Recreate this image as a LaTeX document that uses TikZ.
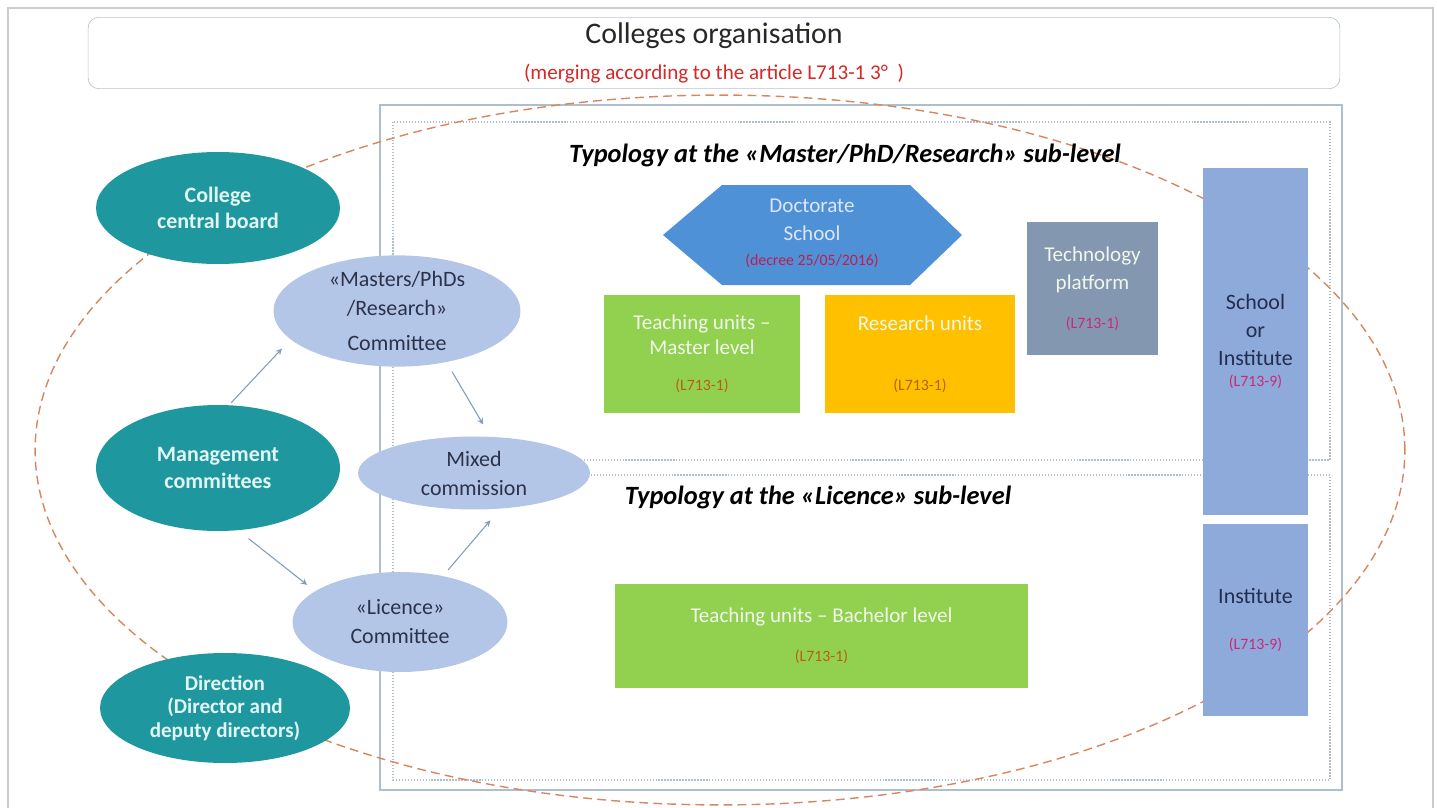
\documentclass[tikz,border=0pt]{standalone}
\usepackage{fontspec}
\setmainfont{Carlito}
\usetikzlibrary{shapes.geometric,positioning}

\definecolor{boardteal}{RGB}{30,152,158}
\definecolor{boardtext}{RGB}{225,245,245}
\definecolor{cmteblue}{RGB}{180,198,231}
\definecolor{cmtetext}{RGB}{45,50,75}
\definecolor{docblue}{RGB}{78,145,215}
\definecolor{doctext}{RGB}{220,230,250}
\definecolor{docref}{RGB}{190,30,80}
\definecolor{unitgreen}{RGB}{146,208,80}
\definecolor{unitorange}{RGB}{255,192,0}
\definecolor{unittext}{RGB}{240,248,235}
\definecolor{platslate}{RGB}{132,151,176}
\definecolor{schoolblue}{RGB}{142,170,219}
\definecolor{schooltext}{RGB}{35,45,80}
\definecolor{reftext}{RGB}{215,40,40}
\definecolor{brownref}{RGB}{185,95,20}
\definecolor{pinkref}{RGB}{205,40,120}
\definecolor{linkblue}{RGB}{130,155,190}
\definecolor{frameline}{RGB}{175,190,205}
\definecolor{titleline}{RGB}{185,195,210}
\definecolor{pageline}{RGB}{200,205,210}
\definecolor{ovalline}{RGB}{215,135,95}
\definecolor{titletext}{RGB}{40,40,40}

\newcommand{\lawref}[2]{{\color{#1}\fontsize{9}{11}\selectfont #2}}

\begin{document}
\begin{tikzpicture}[x=0.02cm, y=-0.02cm,
  boardoval/.style={ellipse, fill=boardteal, text=boardtext, inner sep=0pt, align=center, font=\bfseries\fontsize{12.5}{15}\selectfont},
  cmteoval/.style={ellipse, fill=cmteblue, text=cmtetext, inner sep=0pt, align=center, font=\fontsize{12.5}{16.5}\selectfont},
  unitbox/.style={rectangle, inner sep=0pt, align=center, text=unittext, font=\fontsize{12}{14}\selectfont},
  typohead/.style={font=\bfseries\itshape\fontsize{15}{18}\selectfont, inner sep=0pt},
  linkarrow/.style={->, >=stealth, draw=linkblue, line width=0.6pt},
  outerframe/.style={draw=frameline, line width=0.8pt},
  dotframe/.style={draw=frameline, densely dotted, line width=0.7pt},
  guideoval/.style={draw=ovalline, dash pattern=on 5pt off 3pt, line width=0.8pt}]
\fill[white] (0,0) rectangle (1437,808);
\useasboundingbox (0,0) rectangle (1437,808);
\draw[draw=pageline, line width=0.6pt] (8,8) rectangle (1433,830);

\node[draw=titleline, rounded corners=6pt, fill=white, text=titletext, minimum width=25.04cm, minimum height=1.32cm, align=center, font=\fontsize{17}{20}\selectfont] (title) at (714,53) {Colleges organisation\\{\color{reftext}\fontsize{12}{14}\selectfont (merging according to the article L713-1 3°~~)}};

\draw[outerframe] (380,105) rectangle (1342,790);
\draw[dotframe] (393,122) rectangle (1330,460);
\draw[dotframe] (393,475) rectangle (1330,780);
\draw[guideoval] (720,450) ellipse [x radius=13.7cm, y radius=7.1cm];

\node[typohead] (typmaster) at (845,155) {Typology at the «Master/PhD/Research» sub-level};
\node[typohead] (typlic) at (818,497) {Typology at the «Licence» sub-level};

\node[boardoval, minimum width=4.88cm, minimum height=2.24cm] (central) at (218,208) {College\\central board};
\node[boardoval, minimum width=4.88cm, minimum height=2.52cm] (mgmt) at (218,468) {Management\\committees};
\node[boardoval, minimum width=5cm, minimum height=2.2cm, font=\bfseries\fontsize{12}{13.5}\selectfont] (direction) at (225,708) {Direction\\(Director and\\deputy directors)};

\node[cmteoval, minimum width=4.94cm, minimum height=2.16cm] (mpr) at (397,311) {«Masters/PhDs\\/Research»\\[3pt]Committee};
\node[cmteoval, minimum width=4.64cm, minimum height=1.46cm] (mixed) at (474,473) {Mixed\\commission};
\node[cmteoval, minimum width=4.3cm, minimum height=2cm] (lic) at (400,622) {«Licence»\\Committee};

\fill[docblue] (663,235) -- (722,185) -- (910,185) -- (962,235) -- (910,285) -- (722,285) -- cycle;
\node[unitbox, text=doctext, font=\fontsize{12}{16}\selectfont] (doc) at (812,233) {Doctorate\\School\\[-2pt]\lawref{docref}{(decree 25/05/2016)}};

\node[unitbox, fill=unitgreen, minimum width=3.94cm, minimum height=2.36cm] (teachm) at (702,354) {Teaching units –\\Master level\\[7pt]\lawref{brownref}{(L713-1)}};
\node[unitbox, fill=unitorange, minimum width=3.8cm, minimum height=2.36cm] (research) at (920,354) {Research units\\[20pt]\lawref{brownref}{(L713-1)}};
\node[unitbox, fill=platslate, minimum width=2.62cm, minimum height=2.66cm, font=\fontsize{12}{16}\selectfont] (platform) at (1092.5,288.5) {Technology\\platform\\[6pt]\lawref{pinkref}{(L713-1)}};
\node[unitbox, fill=schoolblue, text=schooltext, minimum width=2.1cm, minimum height=6.94cm, font=\fontsize{12.5}{16}\selectfont] (school) at (1255.5,341.5) {School\\or\\Institute\\[-4pt]\lawref{pinkref}{(L713-9)}};
\node[unitbox, fill=schoolblue, text=schooltext, minimum width=2.1cm, minimum height=3.86cm, font=\fontsize{12.5}{16}\selectfont] (institute) at (1255.5,620) {Institute\\[10pt]\lawref{pinkref}{(L713-9)}};
\node[unitbox, fill=unitgreen, minimum width=8.26cm, minimum height=2.08cm] (teachb) at (821.5,636) {Teaching units – Bachelor level\\[8pt]\lawref{brownref}{(L713-1)}};

\draw[linkarrow, shorten <=0.06cm, shorten >=0.25cm] (mgmt.80) -- (mpr.195);
\draw[linkarrow, shorten <=0.22cm, shorten >=0.28cm] (mpr.314) -- (mixed.66);
\draw[linkarrow, shorten <=0.26cm, shorten >=0.2cm] (mgmt.288) -- (lic.160);
\draw[linkarrow, shorten <=0.16cm, shorten >=0.3cm] (lic.47) -- (mixed.306);
\end{tikzpicture}
\end{document}
